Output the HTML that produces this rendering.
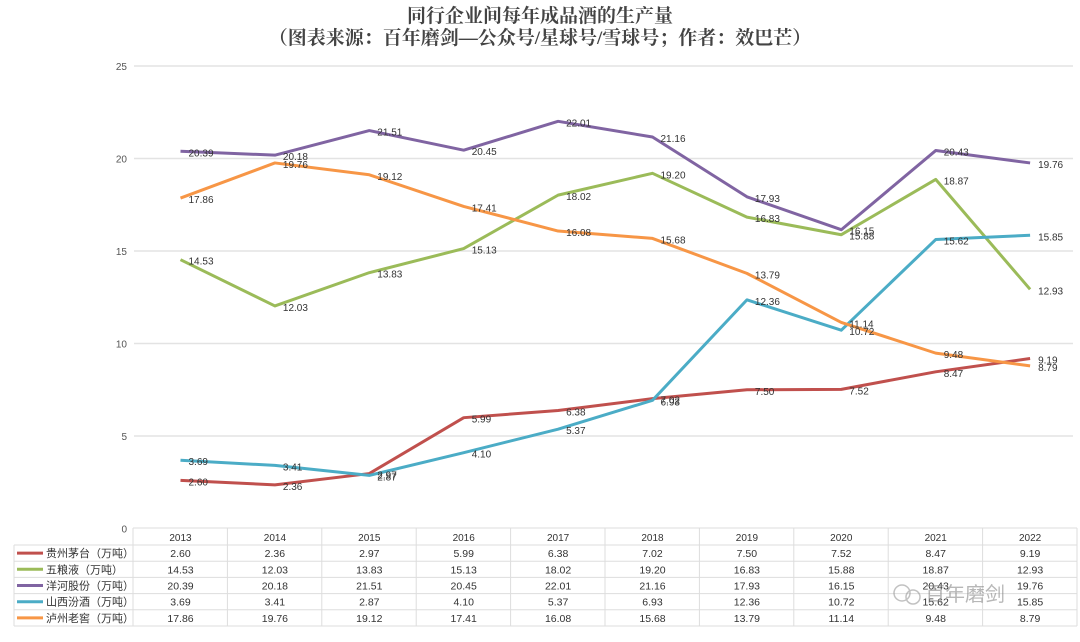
<!DOCTYPE html>
<html><head><meta charset="utf-8"><style>
body{margin:0;background:#fff;width:1080px;height:637px;overflow:hidden}
svg text{font-family:"Liberation Sans","Noto Sans CJK SC",sans-serif}
</style></head><body>
<svg id="c" width="1080" height="637" xmlns="http://www.w3.org/2000/svg">
<text x="540" y="22" text-anchor="middle" font-size="19" font-weight="bold" fill="#444" style="font-family:'Liberation Serif','Noto Serif CJK SC',serif">同行企业间每年成品酒的生产量</text>
<text x="540" y="44" text-anchor="middle" font-size="19" font-weight="bold" fill="#444" style="font-family:'Liberation Serif','Noto Serif CJK SC',serif">（图表来源：百年磨剑—公众号/星球号/雪球号；作者：效巴芒）</text>
<g id="grid"></g><g id="lines"></g><g id="labels"></g><g id="table"></g>
<g opacity="0.6">
<circle cx="902" cy="593" r="8" fill="none" stroke="#999" stroke-width="1.5"/>
<circle cx="913" cy="597" r="7" fill="none" stroke="#999" stroke-width="1.5"/>
<text x="925" y="601" font-size="20" fill="#888">百年磨剑</text>
</g>
</svg>
<script>
const years=["2013","2014","2015","2016","2017","2018","2019","2020","2021","2022"];
const names=["贵州茅台（万吨）","五粮液（万吨）","洋河股份（万吨）","山西汾酒（万吨）","泸州老窖（万吨）"];
const moutai=[2.60,2.36,2.97,5.99,6.38,7.02,7.50,7.52,8.47,9.19];
const wuliangye=[14.53,12.03,13.83,15.13,18.02,19.20,16.83,15.88,18.87,12.93];
const yanghe=[20.39,20.18,21.51,20.45,22.01,21.16,17.93,16.15,20.43,19.76];
const fenjiu=[3.69,3.41,2.87,4.10,5.37,6.93,12.36,10.72,15.62,15.85];
const luzhou=[17.86,19.76,19.12,17.41,16.08,15.68,13.79,11.14,9.48,8.79];
const yTicks=[0,5,10,15,20,25];
const series=[moutai,wuliangye,yanghe,fenjiu,luzhou];
const colors=["#c0504d","#9bbb59","#8064a2","#4bacc6","#f79646"];
const NS="http://www.w3.org/2000/svg";
const X=i=>180.5+i*94.4, Y=v=>528.5-v*18.5;
function mk(t,a,p){const e=document.createElementNS(NS,t);for(const k in a)e.setAttribute(k,a[k]);p.appendChild(e);return e;}
const g=document.getElementById('grid');
yTicks.forEach(t=>{if(t>0){const l=mk('line',{x1:134,x2:1073,y1:Y(t),y2:Y(t),stroke:'#e3e3e3','stroke-width':1.5},g);

}
const tx=mk('text',{x:127,y:Y(t)+4,'text-anchor':'end','font-size':10,fill:'#555'},g);tx.textContent=t;

});
const L=document.getElementById('lines'),LB=document.getElementById('labels');
series.forEach((s,k)=>{const p=mk('polyline',{points:s.map((v,i)=>X(i)+','+Y(v)).join(' '),fill:'none',stroke:colors[k],'stroke-width':3,'stroke-linejoin':'round'},L);


s.forEach((v,i)=>{const t=mk('text',{x:X(i)+8,y:Y(v)+5,'font-size':10,fill:'#333'},LB);t.textContent=v.toFixed(2);

});});
const T=document.getElementById('table');const tableTop=528,rh=16.2,hh=17;
const b=mk('g',{},T);


mk('line',{x1:133,x2:1077,y1:tableTop,y2:tableTop,stroke:'#ddd'},b);
for(let r=0;r<=5;r++){const y=tableTop+hh+r*rh;mk('line',{x1:14,x2:1077,y1:y,y2:y,stroke:'#ddd'},b);}
const bot=tableTop+hh+5*rh;
mk('line',{x1:14,x2:14,y1:tableTop+hh,y2:bot,stroke:'#ddd'},b);
for(let i=0;i<=10;i++){const x=133+i*94.4;mk('line',{x1:x,x2:x,y1:tableTop,y2:bot,stroke:'#ddd'},b);}
years.forEach((y,i)=>{const t=mk('text',{x:X(i),y:tableTop+13,'text-anchor':'middle','font-size':10,fill:'#333'},b);t.textContent=y;

});
names.forEach((n,k)=>{const cy=tableTop+hh+k*rh+rh/2;
mk('line',{x1:17,x2:43,y1:cy,y2:cy,stroke:colors[k],'stroke-width':3},b);
const t=mk('text',{x:46,y:cy+4,'font-size':11,fill:'#333'},b);t.textContent=n;


series[k].forEach((v,i)=>{const c=mk('text',{x:X(i),y:cy+4,'text-anchor':'middle','font-size':10.5,fill:'#333'},b);c.textContent=v.toFixed(2);

});});
</script>
</body></html>
